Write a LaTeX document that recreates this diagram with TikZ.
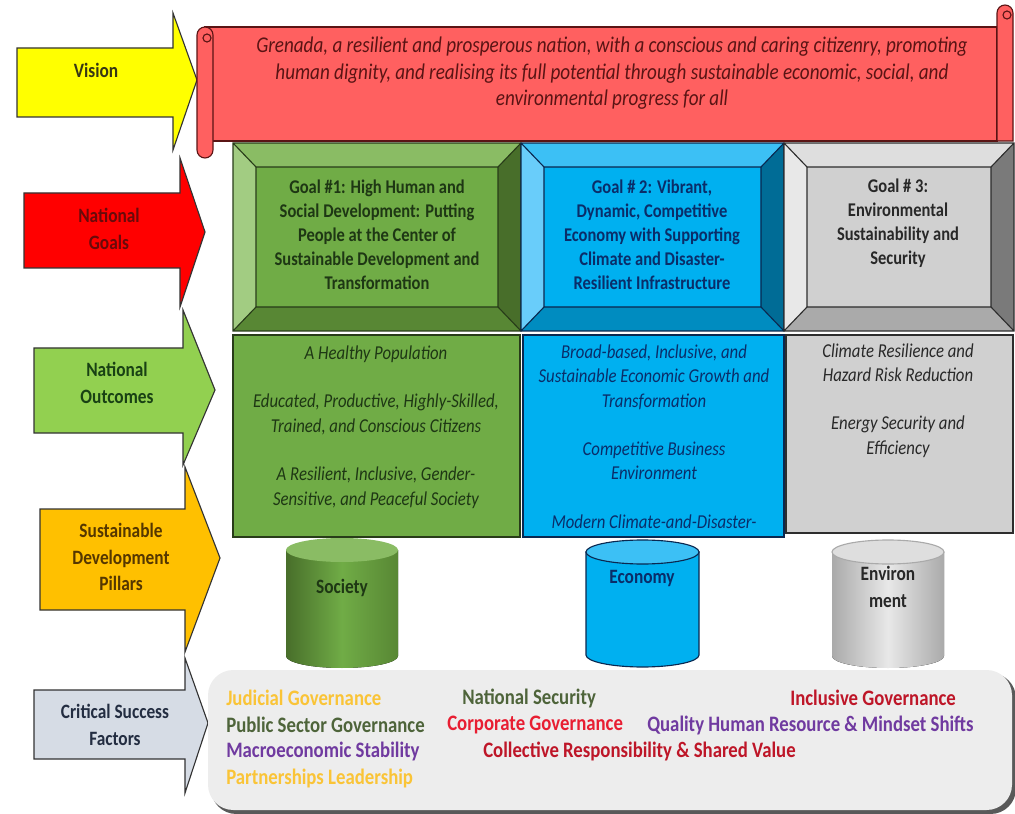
\documentclass[tikz,border=0pt]{standalone}
\usepackage{fontspec}
\setmainfont{Carlito}[FakeStretch=0.85]

\definecolor{scrollred}{RGB}{255,96,96}
\definecolor{scrolledge}{RGB}{90,20,20}
\definecolor{visionyellow}{RGB}{255,255,0}
\definecolor{goalsred}{RGB}{255,0,0}
\definecolor{outcomegreen}{RGB}{146,208,80}
\definecolor{pillarorange}{RGB}{255,192,0}
\definecolor{factorgrey}{RGB}{214,220,229}
% text colours of the arrows
\definecolor{visionink}{RGB}{55,55,20}
\definecolor{goalsink}{RGB}{105,10,10}
\definecolor{outcomeink}{RGB}{25,65,20}
\definecolor{pillarink}{RGB}{85,55,0}
\definecolor{factorink}{RGB}{35,45,65}
% goal 1 (green)
\definecolor{socface}{RGB}{112,172,70}
\definecolor{soctop}{RGB}{138,188,100}
\definecolor{socleft}{RGB}{162,204,130}
\definecolor{socright}{RGB}{72,110,42}
\definecolor{socbot}{RGB}{88,135,52}
\definecolor{socline}{RGB}{40,60,25}
\definecolor{socink}{RGB}{30,55,20}
% goal 2 (blue)
\definecolor{ecoface}{RGB}{0,176,240}
\definecolor{ecotop}{RGB}{60,192,245}
\definecolor{ecoleft}{RGB}{105,205,250}
\definecolor{ecoright}{RGB}{0,108,150}
\definecolor{ecobot}{RGB}{0,140,192}
\definecolor{ecoline}{RGB}{10,40,80}
\definecolor{ecoink}{RGB}{10,45,105}
% goal 3 (grey)
\definecolor{envface}{RGB}{208,208,208}
\definecolor{envtop}{RGB}{222,222,222}
\definecolor{envleft}{RGB}{232,232,232}
\definecolor{envright}{RGB}{122,122,122}
\definecolor{envbot}{RGB}{170,170,170}
\definecolor{envline}{RGB}{45,45,45}
\definecolor{envink}{RGB}{40,40,40}
% success factors
\definecolor{csgold}{RGB}{250,196,55}
\definecolor{csolive}{RGB}{78,100,58}
\definecolor{csred}{RGB}{232,30,50}
\definecolor{csdarkred}{RGB}{190,22,40}
\definecolor{cspurple}{RGB}{112,58,160}

\tikzset{
  bigarrow/.style={draw=black!80, line width=0.8pt, line join=miter},
  arrowlabel/.style={font=\fontsize{14.5}{19}\selectfont\bfseries, align=center, inner sep=0pt},
  visiontext/.style={font=\fontsize{16}{18.9}\selectfont\itshape, align=center, inner sep=0pt, text=scrolledge},
  goaltext/.style={font=\fontsize{13.8}{17}\selectfont\bfseries, align=center, inner sep=0pt},
  outcometext/.style={font=\fontsize{14}{17.4}\selectfont\itshape, align=center, inner sep=0pt},
  pillartext/.style={font=\fontsize{14.5}{19}\selectfont\bfseries, align=center, inner sep=0pt},
  factor/.style={font=\fontsize{15.7}{18}\selectfont\bfseries, anchor=west, inner sep=0pt},
}

% bevelled goal frame: x1, y1, x2, y2, colour prefix
\newcommand{\bevelbox}[5]{%
  \fill[#5face] (#1,#2) rectangle (#3,#4);
  \fill[#5top] (#1,#2) -- (#3,#2) -- (#3-23,#2+24) -- (#1+23,#2+24) -- cycle;
  \fill[#5left] (#1,#2) -- (#1+23,#2+24) -- (#1+23,#4-24) -- (#1,#4) -- cycle;
  \fill[#5right] (#3,#2) -- (#3-23,#2+24) -- (#3-23,#4-24) -- (#3,#4) -- cycle;
  \fill[#5bot] (#1,#4) -- (#1+23,#4-24) -- (#3-23,#4-24) -- (#3,#4) -- cycle;
  \draw[#5line, line width=0.8pt] (#1,#2) rectangle (#3,#4)
    (#1+23,#2+24) rectangle (#3-23,#4-24)
    (#1,#2) -- (#1+23,#2+24) (#3,#2) -- (#3-23,#2+24)
    (#1,#4) -- (#1+23,#4-24) (#3,#4) -- (#3-23,#4-24);
}

\begin{document}
\begin{tikzpicture}[x=0.025cm, y=-0.025cm]
\useasboundingbox (0,0) rectangle (1015,814);

% left arrows
\draw[bigarrow, fill=visionyellow] (17,48) -- (173,48) -- (173,13) -- (197,80)
  -- (173,150) -- (173,117) -- (17,117) -- cycle;
\draw[bigarrow, fill=goalsred] (24,193) -- (180,193) -- (180,158) -- (205,232)
  -- (180,307) -- (180,268) -- (24,268) -- cycle;
\draw[bigarrow, fill=outcomegreen] (34,348) -- (183,348) -- (183,310) -- (215,390)
  -- (183,465) -- (183,433) -- (34,433) -- cycle;
\draw[bigarrow, fill=pillarorange] (40,509) -- (185,509) -- (185,467) -- (220,558)
  -- (185,652) -- (185,610) -- (40,610) -- cycle;
\draw[bigarrow, fill=factorgrey] (34,690) -- (185,690) -- (185,658) -- (208,723)
  -- (185,793) -- (185,759) -- (34,759) -- cycle;

\node[arrowlabel, text=visionink] (vision) at (96,70) {Vision};
\node[arrowlabel, text=goalsink] (goals) at (109,229) {National\\Goals};
\node[arrowlabel, text=outcomeink] (outcomes) at (117,383) {National\\Outcomes};
\node[arrowlabel, text=pillarink] (pillars) at (121,557) {Sustainable\\Development\\Pillars};
\node[arrowlabel, text=factorink] (factors) at (115,725) {Critical Success\\Factors};

% vision scroll
\draw[fill=scrollred, draw=scrolledge, line width=0.8pt] (205,27) -- (997,27) -- (997,141)
  -- (205,141) -- cycle;
\draw[fill=scrollred, draw=scrolledge, line width=0.8pt] (997,141) -- (997,13)
  arc[start angle=180, end angle=360, radius=8] -- (1013,141) -- cycle;
\draw[scrolledge, line width=0.8pt] (1007,15) circle[radius=4];
\draw[fill=scrollred, draw=scrolledge, line width=0.8pt] (197,35)
  arc[start angle=180, end angle=360, radius=8] -- (213,150)
  arc[start angle=0, end angle=180, radius=8] -- cycle;
\draw[scrolledge, line width=0.8pt] (207,38) circle[radius=4];
\node[visiontext] (visiontext) at (612,73.5) {Grenada, a resilient and prosperous nation, with a conscious and caring citizenry, promoting\\
  human dignity, and realising its full potential through sustainable economic, social, and\\
  environmental progress for all};

% national goals
\bevelbox{233}{143}{521}{331}{soc}
\bevelbox{521}{143}{784}{331}{eco}
\bevelbox{784}{143}{1014}{331}{env}
\node[goaltext, text=socink] (goal1) at (377,235) {Goal \#1: High Human and\\Social Development: Putting\\
  People at the Center of\\Sustainable Development and\\Transformation};
\node[goaltext, text=ecoink] (goal2) at (652,235) {Goal \# 2: Vibrant,\\Dynamic, Competitive\\
  Economy with Supporting\\Climate and Disaster-\\Resilient Infrastructure};
\node[goaltext, text=envink] (goal3) at (898,223) {Goal \# 3:\\Environmental\\Sustainability and\\Security};

% national outcomes
\draw[fill=socface, draw=socline, line width=0.8pt] (233,335) rectangle (520,537);
\draw[fill=ecoface, draw=ecoline, line width=0.8pt] (523,335) rectangle (784,537);
\draw[fill=envface, draw=envline, line width=0.8pt] (786,335) rectangle (1013,533);
\node[outcometext, text=socink] (out1) at (376,427) {A Healthy Population\\[17pt]
  Educated, Productive, Highly-Skilled,\\Trained, and Conscious Citizens\\[17pt]
  A Resilient, Inclusive, Gender-\\Sensitive, and Peaceful Society};
\node[outcometext, text=ecoink] (out2) at (654,436.5) {Broad-based, Inclusive, and\\
  Sustainable Economic Growth and\\Transformation\\[17pt]
  Competitive Business\\Environment\\[17pt]
  Modern Climate-and-Disaster-};
\node[outcometext, text=envink] (out3) at (898,400.5) {Climate Resilience and\\Hazard Risk Reduction\\[17pt]
  Energy Security and\\Efficiency};

% pillars
\fill[left color=socright, right color=socbot, middle color=socface] (286,550) -- (286,656)
  arc[start angle=180, end angle=0, x radius=56, y radius=12] -- (398,550) -- cycle;
\fill[soctop] (342,550) ellipse[x radius=56, y radius=12];
\draw[fill=ecoface, draw=ecoline, line width=0.8pt] (586,552) -- (586,655)
  arc[start angle=180, end angle=0, x radius=56.5, y radius=12] -- (699,552) -- cycle;
\draw[fill=ecotop, draw=ecoline, line width=0.8pt] (642.5,552) ellipse[x radius=56.5, y radius=12];
\fill[left color=envbot, right color=envbot, middle color=envleft] (832,552) -- (832,656)
  arc[start angle=180, end angle=0, x radius=56, y radius=12] -- (944,552) -- cycle;
\draw[fill=envtop, draw=envbot, line width=0.8pt] (888,552) ellipse[x radius=56, y radius=12];
\node[pillartext, text=socink] (society) at (342,588) {Society};
\node[pillartext, text=ecoink] (economy) at (642,578) {Economy};
\node[pillartext, text=envink] (environment) at (888,587) {Environ\\ment};

% critical success factors
\fill[black!65, rounded corners=18] (211,673) rectangle (1016,814);
\fill[black!7, rounded corners=18] (208,670) rectangle (1012,810);
\node[factor, text=csgold] (judicial) at (226,698) {Judicial Governance};
\node[factor, text=csolive] (security) at (462,698) {National Security};
\node[factor, text=csdarkred] (inclusive) at (790,698) {Inclusive Governance};
\node[factor, text=csolive] (publicsector) at (226,725) {Public Sector Governance};
\node[factor, text=csred] (corporate) at (447,725) {Corporate Governance};
\node[factor, text=cspurple] (humanres) at (647,725) {Quality Human Resource \& Mindset Shifts};
\node[factor, text=cspurple] (macro) at (226,751) {Macroeconomic Stability};
\node[factor, text=csdarkred] (collective) at (483,751) {Collective Responsibility \& Shared Value};
\node[factor, text=csgold] (partners) at (226,778) {Partnerships Leadership};
\end{tikzpicture}
\end{document}
